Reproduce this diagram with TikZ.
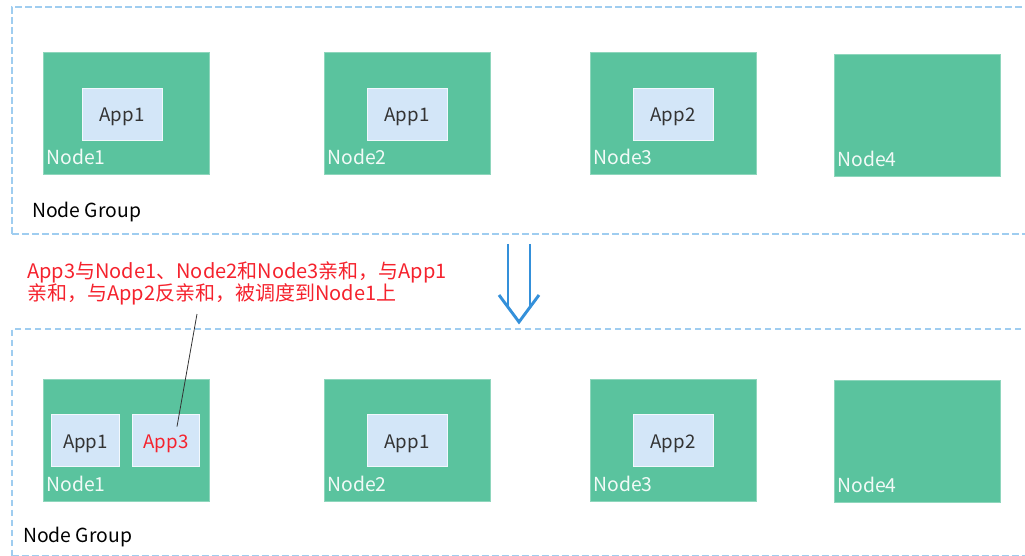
\documentclass[tikz,border=0pt]{standalone}
\usepackage{fontspec}
\setmainfont{Noto Sans CJK SC}
\usepackage{xcolor}
\usepackage{tikz}
\usetikzlibrary{positioning, calc}

\definecolor{hostgreen}{HTML}{5AC39E}
\definecolor{hostedge}{HTML}{8ED6BC}
\definecolor{appblue}{HTML}{D3E6F8}
\definecolor{groupline}{HTML}{9FCDF0}
\definecolor{flowblue}{HTML}{3490DA}
\definecolor{notered}{HTML}{F5222D}
\definecolor{txtgray}{HTML}{333333}

\begin{document}
\begin{tikzpicture}[
  x=0.75pt, y=-0.75pt,
  group/.style={rectangle, draw=groupline, dashed, dash pattern=on 5pt off 2.5pt, line width=1.3pt, anchor=north west, inner sep=0pt},
  grouptxt/.style={anchor=base west, inner sep=0pt, font=\fontsize{14.5}{16}\selectfont, text=black},
  host/.style={rectangle, fill=hostgreen, draw=hostedge, line width=0.6pt, minimum width=125pt, minimum height=92pt, inner sep=0pt},
  hosttxt/.style={anchor=south west, inner xsep=2.5pt, inner ysep=8pt, font=\fontsize{14.5}{16}\selectfont, text=white!92!hostgreen},
  app/.style={rectangle, fill=appblue, draw=white!70!appblue, line width=0.6pt, minimum width=60pt, minimum height=39pt, inner sep=0pt, text height=1.4em, text depth=0.2em, font=\fontsize{14}{16}\selectfont, text=txtgray},
  smallapp/.style={app, minimum width=50.5pt},
  note/.style={anchor=north west, inner sep=0pt, align=left, font=\fontsize{15}{16}\selectfont, text=notered},
  pointer/.style={draw=txtgray, line width=0.6pt},
  flow/.style={draw=flowblue, line width=2.2pt}
]
  \useasboundingbox (0,0) rectangle (1025,556);

  % before scheduling
  \node[group, minimum width=766pt, minimum height=170.5pt] (grpA) at (11,6) {};
  \node[grouptxt] (grpAtxt) at (32,218) {Node Group};
  \node[host, label={[hosttxt]south west:Node1}] (n1a) at (126.5,113.5) {};
  \node[host, label={[hosttxt]south west:Node2}] (n2a) at (407.5,113.5) {};
  \node[host, label={[hosttxt]south west:Node3}] (n3a) at (673.5,113.5) {};
  \node[host, label={[hosttxt]south west:Node4}] (n4a) at (917.5,115.5) {};
  \node[app] (app1a) at (122,114) {App1};
  \node[app] (app1b) at (407,114) {App1};
  \node[app] (app2a) at (673,114) {App2};

  % scheduling step
  \draw[flow] (508,244) -- (508,306) (530,244) -- (530,306);
  \draw[flow, line join=miter] (499,295) -- (519,322) -- (539,295);
  \node[note] (note) at (27,261) {App3与Node1、Node2和Node3亲和，与App1\\亲和，与App2反亲和，被调度到Node1上};

  % after scheduling
  \node[group, minimum width=766pt, minimum height=170pt] (grpB) at (11,328) {};
  \node[grouptxt] (grpBtxt) at (23,542) {Node Group};
  \node[host, label={[hosttxt]south west:Node1}] (n1b) at (126.5,440.5) {};
  \node[host, label={[hosttxt]south west:Node2}] (n2b) at (407.5,440.5) {};
  \node[host, label={[hosttxt]south west:Node3}] (n3b) at (673.5,440.5) {};
  \node[host, label={[hosttxt]south west:Node4}] (n4b) at (917.5,441.5) {};
  \node[smallapp] (app1c) at (85.5,440) {App1};
  \node[smallapp, text=notered] (app3) at (166,440) {App3};
  \node[app] (app1d) at (407,440) {App1};
  \node[app] (app2b) at (673,440) {App2};

  \coordinate (notetail) at (197,314);
  \draw[pointer] (notetail) -- ([shift={(11,13)}]app3.north);
\end{tikzpicture}
\end{document}
